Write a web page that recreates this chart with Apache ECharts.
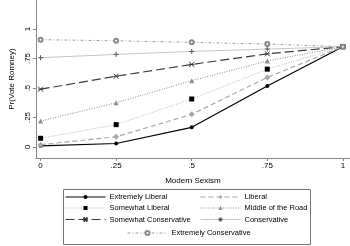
<!DOCTYPE html>
<html><head><meta charset="utf-8">
<script src="https://cdn.jsdelivr.net/npm/echarts@6/dist/echarts.min.js"></script>
<style>html,body{margin:0;padding:0;background:#fff}#c{width:350px;height:246px}</style>
</head><body><div id="c"></div>
<script>
const xValues = [0, 0.25, 0.5, 0.75, 1];
const tickValues = [0, 0.25, 0.5, 0.75, 1];
const extremelyLiberal = [0.01, 0.03, 0.167, 0.517, 0.85];
const liberal = [0.02, 0.087, 0.277, 0.59, 0.85];
const somewhatLiberal = [0.074, 0.19, 0.407, 0.66, 0.85];
const middleOfTheRoad = [0.22, 0.375, 0.562, 0.73, 0.85];
const somewhatConservative = [0.49, 0.60, 0.70, 0.79, 0.85];
const conservative = [0.757, 0.785, 0.81, 0.83, 0.85];
const extremelyConservative = [0.91, 0.90, 0.887, 0.873, 0.85];

const pair = arr => xValues.map((x, i) => [x, arr[i]]);
const fmt = v => (v === 0 ? '0' : v === 1 ? '1' : String(v).replace(/^0/, ''));
const FONT = 'Liberation Sans, Arial, sans-serif';
const xPath = 'path://M0,0L10,10M10,0L0,10M0,5L10,5';
const plusPath = 'path://M5,0L5,10M0,5L10,5';

const defs = [
  {name:'Extremely Liberal', data: pair(extremelyLiberal), symbol:'circle', symbolSize:4,
   lineStyle:{color:'#000', width:1.2, type:'solid'}, itemStyle:{color:'#000'}},
  {name:'Liberal', data: pair(liberal), symbol:'diamond', symbolSize:6,
   lineStyle:{color:'#a8a8a8', width:1.2, type:[5,3]}, itemStyle:{color:'#a8a8a8'}},
  {name:'Somewhat Liberal', data: pair(somewhatLiberal), symbol:'rect', symbolSize:5,
   lineStyle:{color:'#b8b8b8', width:1, type:[1,1.5]}, itemStyle:{color:'#000'}},
  {name:'Middle of the Road', data: pair(middleOfTheRoad), symbol:'triangle', symbolSize:5,
   lineStyle:{color:'#8c8c8c', width:1, type:[1,1.5]}, itemStyle:{color:'#8c8c8c'}},
  {name:'Somewhat Conservative', data: pair(somewhatConservative), symbol:xPath, symbolSize:5,
   lineStyle:{color:'#3a3a3a', width:1.2, type:[9,4]}, itemStyle:{color:'none', borderColor:'#3a3a3a', borderWidth:1}},
  {name:'Conservative', data: pair(conservative), symbol:plusPath, symbolSize:5,
   lineStyle:{color:'#ababab', width:0.7, type:'solid'}, itemStyle:{color:'none', borderColor:'#555', borderWidth:1}},
  {name:'Extremely Conservative', data: pair(extremelyConservative), symbol:'emptyCircle', symbolSize:4,
   lineStyle:{color:'#a0a0a0', width:1, type:[3,2,1,2]}, itemStyle:{color:'#888', borderWidth:0.8}}
];
const series = defs.map(s => Object.assign({type:'line', showSymbol:true, animation:false, z:3}, s));
const legendItem = name => {
  const d = defs.find(s => s.name === name);
  return {name, lineStyle:{width:Math.min(d.lineStyle.width, 1), type:d.lineStyle.type, color:d.lineStyle.color}};
};

const legendBase = {
  orient:'vertical', itemWidth:40, itemHeight:5, itemGap:3, padding:0,
  textStyle:{fontFamily:FONT, fontSize:7.5, color:'#000', padding:[0,0,0,-1]}, selectedMode:false
};

const chart = echarts.init(document.getElementById('c'), null, {renderer:'canvas'});
chart.setOption({
  backgroundColor:'#fff',
  animation:false,
  grid:{left:28.5, right:0, top:0, bottom:88, containLabel:false},
  xAxis:{type:'value', min:-0.0155, max:1.0236,
    name:'Modern Sexism', nameLocation:'middle', nameGap:19,
    nameTextStyle:{fontFamily:FONT, fontSize:8, color:'#000'},
    axisLine:{onZero:false, lineStyle:{color:'#888', width:1}},
    axisTick:{show:true, length:3, lineStyle:{color:'#888'}, customValues:tickValues},
    axisLabel:{customValues:tickValues, formatter:fmt, fontFamily:FONT, fontSize:8, color:'#000', margin:4},
    splitLine:{show:false}},
  yAxis:{type:'value', min:-0.093, max:1.246,
    name:'Pr(Vote Romney)', nameLocation:'middle', nameGap:15, nameRotate:90,
    nameTextStyle:{fontFamily:FONT, fontSize:8, color:'#000'},
    axisLine:{show:true, onZero:false, lineStyle:{color:'#888', width:1}},
    axisTick:{show:true, length:3, lineStyle:{color:'#888'}, customValues:tickValues},
    axisLabel:{customValues:tickValues, formatter:fmt, rotate:90, fontFamily:FONT, fontSize:8, color:'#000', margin:4},
    splitLine:{show:false}},
  legend:[
    Object.assign({}, legendBase, {left:65, top:193, data:['Extremely Liberal','Somewhat Liberal','Somewhat Conservative'].map(legendItem)}),
    Object.assign({}, legendBase, {left:200, top:193, data:['Liberal','Middle of the Road','Conservative'].map(legendItem)}),
    Object.assign({}, legendBase, {left:127, top:229, data:['Extremely Conservative'].map(legendItem)})
  ],
  graphic:[{type:'rect', shape:{x:63.5, y:189.5, width:247, height:55}, style:{fill:'none', stroke:'#777', lineWidth:1}, z:1}],
  series
});
</script></body></html>
